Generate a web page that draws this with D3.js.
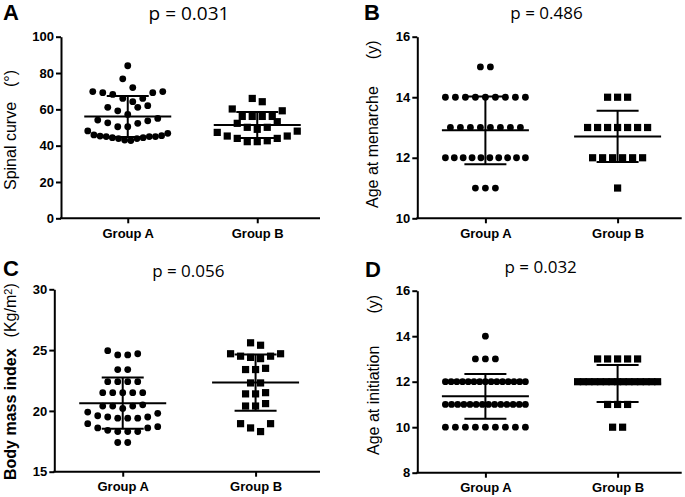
<!DOCTYPE html>
<html><head><meta charset="utf-8">
<script src="https://cdn.jsdelivr.net/npm/d3@7"></script>
<style>
body{margin:0;background:#fff}
svg{display:block}
text{font-family:"Liberation Sans",Arial,sans-serif;fill:#000}
</style>
</head><body>
<svg id="chart" width="685" height="497"></svg>
<script>
// ---------------- data ----------------
const categories = ["Group A", "Group B"];

const spinalA = [84, 76.8, 72, 69.8, 69.8, 69.2, 69.2, 68.2, 66, 66, 64.2, 62, 61.1, 61.1, 59.2, 57.2,
  55, 54.1, 53.7, 52.6, 52.3, 50.4, 50.4,
  48.1, 46.8, 45.9, 45.5, 45.3, 45, 45, 45, 44.4, 44.4, 43.9, 43.9, 43.1, 42.8];
const spinalB = [66, 64.2, 60.2, 59.2, 56.1, 56.1, 56.1, 56.1, 53.2, 52.3, 50.1, 50.1, 49,
  48, 47.3, 45.3, 45.3, 44, 44, 42.7, 42.2, 42.2];

const menarcheA = [15, 15, 14, 14, 14, 14, 14, 14, 14, 14, 14, 13, 13, 13, 13, 13, 13, 13, 13,
  12, 12, 12, 12, 12, 12, 12, 12, 12, 12, 11, 11, 11];
const menarcheB = [14, 14, 14, 13, 13, 13, 13, 13, 13, 13, 12, 12, 12, 12, 12, 12, 11];

const bmiA = [24.95, 24.6, 24.6, 24.7, 23.4, 23.4, 22.4, 22.4, 22.4, 22.4, 21.5, 21.5, 21.5, 21.5, 21.5,
  20.5, 20.4, 20.4, 20.4, 20.2, 19.9, 19.8, 19.6, 19.5, 19.5, 19.4, 19.4, 19.4,
  18.95, 18.7, 18.6, 18.6, 18.4, 18.3, 18.3, 18.3, 17.4, 17.4];
const bmiB = [25.6, 25.4, 24.7, 24.7, 24.5, 24.5, 24.4, 24.3, 23.5, 23.4, 23.4, 22.3, 22.3,
  21.5, 21.4, 21.4, 20.6, 20.4, 20.4, 18.95, 18.95, 18.6, 18.3];

const initiationA = [14, 13, 13, 13, 12, 12, 12, 12, 12, 12, 12, 12, 12, 12, 12, 12, 12, 12, 12,
  11, 11, 11, 11, 11, 11, 11, 11, 11, 11, 11, 11, 11, 11, 10, 10, 10, 10, 10, 10, 10, 10, 10];
const initiationB = [13, 13, 13, 13, 13, 12, 12, 12, 12, 12, 12, 12, 12, 12, 12, 12, 12, 12, 12, 12,
  11, 11, 11, 10, 10];

const ticksSpinal = [0, 20, 40, 60, 80, 100];
const ticksMenarche = [10, 12, 14, 16];
const ticksBmi = [15, 20, 25, 30];
const ticksInitiation = [8, 10, 12, 14, 16];

const pValues = ["p = 0.031", "p = 0.486", "p = 0.056", "p = 0.032"];
const panelLetters = ["A", "B", "C", "D"];

// ---------------- layout ----------------
const panels = [
  {letter: panelLetters[0], title: pValues[0], tx: 189, ty: 19.5, tsize: 19, lx: 3, ly: 20,
   x0: 61, x1: 320, yB: 218.3, yT: 36.7, domain: [0, 100], ticks: ticksSpinal,
   groups: [spinalA, spinalB], bin: 7,
   ylab: {main: "Spinal curve", unit: "(°)", x: 16, y: 190, size: 16, weight: "normal", gap: 15}},
  {letter: panelLetters[1], title: pValues[1], tx: 546.5, ty: 18.5, tsize: 17, lx: 364, ly: 20,
   x0: 417.3, x1: 681.7, yB: 218.3, yT: 36.7, domain: [10, 16], ticks: ticksMenarche,
   groups: [menarcheA, menarcheB], bin: 1,
   ylab: {main: "Age at menarche", unit: "(y)", x: 378, y: 208, size: 16, weight: "normal", gap: 27}},
  {letter: panelLetters[2], title: pValues[2], tx: 188.3, ty: 276.5, tsize: 17, lx: 3, ly: 275.5,
   x0: 54.3, x1: 320, yB: 471.7, yT: 289.3, domain: [15, 30], ticks: ticksBmi,
   groups: [bmiA, bmiB], bin: 1,
   ylab: {main: "Body mass index", unit: "(Kg/m", sup: "2", unit2: ")", x: 16, y: 480, size: 16, weight: "bold", gap: 11}},
  {letter: panelLetters[3], title: pValues[3], tx: 540.7, ty: 272.7, tsize: 17, lx: 365, ly: 276.5,
   x0: 417.3, x1: 681.7, yB: 472.7, yT: 290.7, domain: [8, 16], ticks: ticksInitiation,
   groups: [initiationA, initiationB], bin: 1,
   ylab: {main: "Age at initiation", unit: "(y)", x: 378.5, y: 455, size: 16, weight: "normal", gap: 32}}
];

const svg = d3.select("#chart");
const LW = 2;

// Prism-like scatter layout: bin by value, spread each bin into a centered row
function layoutRows(values, binSize) {
  const items = values.map(v => ({v}));
  const bins = d3.group(items, d => Math.floor(d.v / binSize + 1e-9));
  const out = [];
  for (const [, arr] of bins) {
    arr.sort((a, b) => a.v - b.v);
    const n = arr.length;
    const step = n > 1 ? Math.min(10, 80 / (n - 1)) : 0;
    const slots = d3.range(n).map(i => (i - (n - 1) / 2) * step);
    slots.sort((a, b) => (Math.abs(a) - Math.abs(b)) || (n % 2 === 0 ? b - a : a - b));
    arr.forEach((d, j) => out.push({v: d.v, dx: slots[j]}));
  }
  return out;
}

panels.forEach(p => {
  const g = svg.append("g");
  const y = d3.scaleLinear().domain(p.domain).range([p.yB, p.yT]);
  const x = d3.scalePoint().domain(categories).range([p.x0 + 2, p.x1 + 2]).padding(0.5);

  // panel letter
  g.append("text").attr("x", p.lx).attr("y", p.ly)
    .style("font-size", "22px").style("font-weight", "bold").text(p.letter);
  // p-value title
  g.append("text").attr("x", p.tx).attr("y", p.ty).attr("text-anchor", "middle")
    .style("font-family", "'Open Sans', sans-serif").style("font-size", p.tsize + "px").text(p.title);

  // y axis
  const ya = g.append("g").attr("transform", `translate(${p.x0},0)`)
    .call(d3.axisLeft(y).tickValues(p.ticks).tickSize(5).tickSizeOuter(0).tickPadding(2).tickFormat(d3.format("d")));
  ya.select(".domain").attr("stroke-width", LW).attr("stroke", "#000");
  ya.selectAll(".tick line").attr("stroke-width", LW).attr("stroke", "#000");
  ya.selectAll(".tick text").style("font-size", "13px").style("font-weight", "bold")
    .style("font-family", "'Liberation Sans',Arial,sans-serif").attr("fill", "#000");

  // x axis
  const xa = g.append("g").attr("transform", `translate(0,${p.yB})`)
    .call(d3.axisBottom(x).tickSize(5).tickSizeOuter(0).tickPadding(5));
  xa.select(".domain").remove();
  xa.selectAll(".tick line").attr("stroke-width", LW).attr("stroke", "#000");
  xa.selectAll(".tick text").style("font-size", "13px").style("font-weight", "bold")
    .style("font-family", "'Liberation Sans',Arial,sans-serif").attr("fill", "#000");
  g.append("line").attr("x1", p.x0 - 1).attr("x2", p.x1).attr("y1", p.yB).attr("y2", p.yB)
    .attr("stroke", "#000").attr("stroke-width", LW);

  // y axis title
  const t = g.append("text")
    .attr("transform", `translate(${p.ylab.x},${p.ylab.y}) rotate(-90)`)
    .style("font-size", p.ylab.size + "px");
  t.append("tspan").style("font-weight", p.ylab.weight).text(p.ylab.main);
  t.append("tspan").attr("dx", p.ylab.gap).style("font-weight", "normal").text(p.ylab.unit);
  if (p.ylab.sup) {
    t.append("tspan").attr("dy", -4).style("font-size", "11px").style("font-weight", "normal").text(p.ylab.sup);
    t.append("tspan").attr("dy", 4).style("font-weight", "normal").text(p.ylab.unit2);
  }

  // points
  p.groups.forEach((vals, gi) => {
    const cx = x(categories[gi]);
    const pts = layoutRows(vals, p.bin);
    if (gi === 0) {
      g.selectAll(null).data(pts).join("circle")
        .attr("cx", d => cx + d.dx).attr("cy", d => y(d.v)).attr("r", 3.4).attr("fill", "#000");
    } else {
      const s = 7.2;
      g.selectAll(null).data(pts).join("rect")
        .attr("x", d => cx + d.dx - s / 2).attr("y", d => y(d.v) - s / 2)
        .attr("width", s).attr("height", s).attr("fill", "#000");
    }
    // mean ± SD
    const m = d3.mean(vals), sd = d3.deviation(vals);
    const ln = (x1, x2, y1, y2) => g.append("line").attr("x1", x1).attr("x2", x2)
      .attr("y1", y1).attr("y2", y2).attr("stroke", "#000").attr("stroke-width", LW);
    ln(cx - 43.5, cx + 43.5, y(m), y(m));
    ln(cx, cx, y(m - sd), y(m + sd));
    ln(cx - 21, cx + 21, y(m + sd), y(m + sd));
    ln(cx - 21, cx + 21, y(m - sd), y(m - sd));
  });
});
</script>
</body></html>
